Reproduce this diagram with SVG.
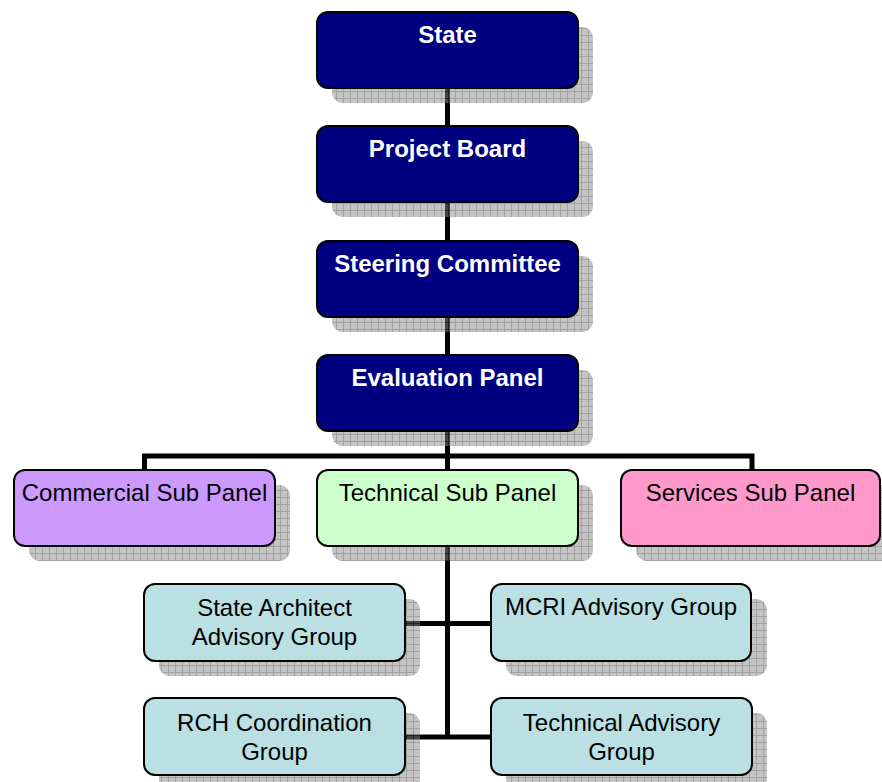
<svg xmlns="http://www.w3.org/2000/svg" width="882" height="782" viewBox="0 0 882 782">
<defs>
<pattern id="grid" width="7" height="7" patternUnits="userSpaceOnUse">
<rect width="7" height="7" fill="#888"/>
<path d="M0 0.5H7M0.5 0V7" stroke="#444" stroke-width="1"/>
</pattern>
</defs>
<style>
.sh{fill:url(#grid);opacity:0.5}
.bx{stroke:#000;stroke-width:2}
.top{fill:#000080}
.t1{font-family:"Liberation Sans",Arial,sans-serif;font-size:24px;font-weight:bold;fill:#fff;text-anchor:middle}
.t2{font-family:"Liberation Sans",Arial,sans-serif;font-size:24px;fill:#000;text-anchor:middle}
.lo{fill:#bbe0e3}
.cn{stroke:#000;stroke-width:5;fill:none}
</style>
<g id="connectors">
<path class="cn" d="M447.5 88V737"/>
<path class="cn" d="M144.5 470V456H752V470"/>
<path class="cn" d="M405 623.5H491"/>
<path class="cn" d="M405 737H491"/>
</g>
<g id="shadows">
<rect class="sh" x="332" y="27" width="261" height="76" rx="11"/>
<rect class="sh" x="332" y="141" width="261" height="76" rx="11"/>
<rect class="sh" x="332" y="256" width="261" height="76" rx="11"/>
<rect class="sh" x="332" y="370" width="261" height="76" rx="11"/>
<rect class="sh" x="29" y="485" width="261" height="76" rx="11"/>
<rect class="sh" x="332" y="485" width="261" height="76" rx="11"/>
<rect class="sh" x="636" y="485" width="261" height="76" rx="11"/>
<rect class="sh" x="159" y="599" width="261" height="77" rx="11"/>
<rect class="sh" x="506" y="599" width="261" height="77" rx="11"/>
<rect class="sh" x="159" y="713" width="261" height="77" rx="11"/>
<rect class="sh" x="506" y="713" width="261" height="77" rx="11"/>
</g>
<g id="state">
<rect class="bx top" x="317" y="12" width="261" height="76" rx="11"/>
<text class="t1" x="447.5" y="43">State</text>
</g>
<g id="project-board">
<rect class="bx top" x="317" y="126" width="261" height="76" rx="11"/>
<text class="t1" x="447.5" y="157">Project Board</text>
</g>
<g id="steering-committee">
<rect class="bx top" x="317" y="241" width="261" height="76" rx="11"/>
<text class="t1" x="447.5" y="272">Steering Committee</text>
</g>
<g id="evaluation-panel">
<rect class="bx top" x="317" y="355" width="261" height="76" rx="11"/>
<text class="t1" x="447.5" y="386">Evaluation Panel</text>
</g>
<g id="commercial">
<rect class="bx" fill="#cc99ff" x="14" y="470" width="261" height="76" rx="11"/>
<text class="t2" x="144.5" y="501">Commercial Sub Panel</text>
</g>
<g id="technical">
<rect class="bx" fill="#ccffcc" x="317" y="470" width="261" height="76" rx="11"/>
<text class="t2" x="447.5" y="501">Technical Sub Panel</text>
</g>
<g id="services">
<rect class="bx" fill="#ff99cc" x="621" y="470" width="259" height="76" rx="11"/>
<text class="t2" x="750.5" y="501">Services Sub Panel</text>
</g>
<g id="state-architect">
<rect class="bx lo" x="144" y="584" width="261" height="77" rx="11"/>
<text class="t2" x="274.5" y="616">State Architect</text>
<text class="t2" x="274.5" y="645">Advisory Group</text>
</g>
<g id="mcri">
<rect class="bx lo" x="491" y="584" width="260" height="77" rx="11"/>
<text class="t2" x="621" y="615">MCRI Advisory Group</text>
</g>
<g id="rch">
<rect class="bx lo" x="144" y="698" width="261" height="77" rx="11"/>
<text class="t2" x="274.5" y="731">RCH Coordination</text>
<text class="t2" x="274.5" y="760">Group</text>
</g>
<g id="technical-advisory">
<rect class="bx lo" x="491" y="698" width="261" height="77" rx="11"/>
<text class="t2" x="621.5" y="731">Technical Advisory</text>
<text class="t2" x="621.5" y="760">Group</text>
</g>
</svg>
